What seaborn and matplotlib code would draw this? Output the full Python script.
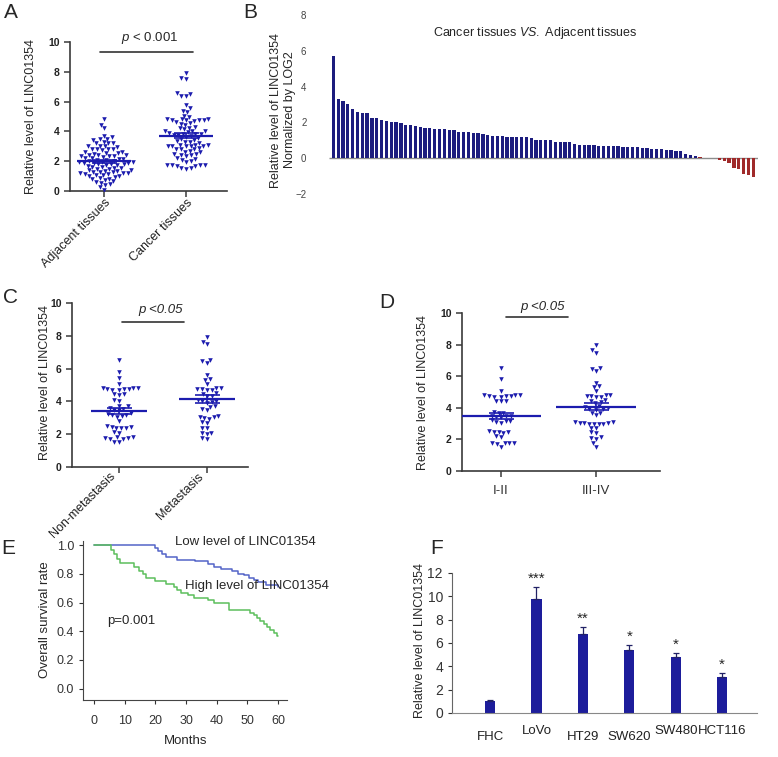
import numpy as np
import pandas as pd
import matplotlib
matplotlib.use("Agg")
import matplotlib.pyplot as plt
from matplotlib.transforms import ScaledTranslation
import seaborn as sns
import warnings
warnings.filterwarnings("ignore")

# ---------------- data ----------------
# Panel A
adjacent = [4.85, 4.45, 4.2, 3.7, 3.65, 3.5, 3.5, 3.45, 3.3, 3.25, 3.25, 3.2,
            3.05, 3.0, 3.0, 2.95, 2.85, 2.8, 2.8, 2.8, 2.75, 2.6, 2.6, 2.55, 2.55, 2.5,
            2.4, 2.4, 2.4, 2.35, 2.35, 2.35, 2.3, 2.2, 2.2, 2.15, 2.15, 2.1, 2.1,
            2.0, 2.0, 1.95, 1.95, 1.95, 1.9, 1.9, 1.9, 1.8, 1.8, 1.8, 1.75, 1.75, 1.7,
            1.6, 1.6, 1.55, 1.55, 1.5, 1.5, 1.4, 1.4, 1.35, 1.35, 1.3,
            1.25, 1.25, 1.2, 1.2, 1.2, 1.15, 1.15, 1.05, 1.05, 1.0, 1.0, 0.95,
            0.85, 0.8, 0.8, 0.75, 0.65, 0.6, 0.55, 0.45, 0.4, 0.25, 0.1]
cancer = [7.95, 7.6, 7.5, 6.55, 6.5, 6.4, 6.35, 5.75, 5.55, 5.35, 5.3, 5.05, 5.0,
          4.8, 4.8, 4.75, 4.75, 4.75, 4.8, 4.75, 4.7, 4.6, 4.55, 4.5, 4.45,
          4.3, 4.25, 4.2, 4.15, 4.05, 4.0, 4.0, 3.95, 3.9, 3.85, 3.8, 3.8, 3.75, 3.75, 3.7,
          3.6, 3.55, 3.5, 3.45, 3.35, 3.3, 3.3, 3.25,
          3.1, 3.1, 3.1, 3.05, 3.05, 3.05, 3.0, 3.0, 2.9, 2.85, 2.8, 2.8,
          2.7, 2.65, 2.6, 2.45, 2.45, 2.4, 2.4, 2.35, 2.2, 2.15, 2.1, 2.0, 1.95,
          1.75, 1.75, 1.75, 1.7, 1.7, 1.75, 1.55, 1.55, 1.5]
groups_a = ["Adjacent tissues", "Cancer tissues"]

# Panel B (log2 fold change per patient, sorted)
b_values = [5.7, 3.3, 3.18, 3.05, 2.74, 2.6, 2.55, 2.5, 2.25, 2.25,
            2.16, 2.1, 2.0, 2.0, 1.96, 1.87, 1.85, 1.81, 1.77, 1.7,
            1.68, 1.65, 1.65, 1.61, 1.58, 1.57, 1.48, 1.46, 1.44, 1.42,
            1.38, 1.33, 1.29, 1.26, 1.25, 1.24, 1.18, 1.17, 1.17, 1.16, 1.16,
            1.15, 1.03, 1.03, 1.02, 1.02, 0.92, 0.91, 0.9, 0.88, 0.79,
            0.76, 0.74, 0.73, 0.71, 0.7, 0.7, 0.69, 0.68, 0.66, 0.63, 0.62,
            0.6, 0.6, 0.57, 0.56, 0.54, 0.53, 0.5, 0.48, 0.46, 0.43,
            0.42, 0.24, 0.18, 0.13,
            0.06, 0.03, 0.0, 0.0,
            -0.12, -0.15, -0.25, -0.55, -0.58, -0.9, -0.95, -1.05]
b_groups = ["up"] * 76 + ["down"] * 12

# Panel C
non_metastasis = [6.5, 5.8, 5.4, 5.05, 4.8, 4.8, 4.75, 4.75, 4.75, 4.7, 4.7, 4.8,
                  4.45, 4.45, 4.4, 4.1, 4.05, 3.75, 3.7, 3.6, 3.55, 3.5, 3.45,
                  3.3, 3.25, 3.2, 3.15, 3.1, 3.05, 2.8, 2.5, 2.45, 2.45, 2.4, 2.4, 2.35,
                  2.15, 2.1, 1.8, 1.8, 1.75, 1.75, 1.7, 1.7, 1.55, 1.55]
metastasis = [7.95, 7.65, 7.5, 6.55, 6.45, 6.35, 5.6, 5.35, 5.3, 5.05,
              4.8, 4.8, 4.75, 4.75, 4.7, 4.7, 4.5, 4.45, 4.35, 4.3,
              4.1, 4.05, 4.0, 3.95, 3.9, 3.7, 3.65, 3.55, 3.45,
              3.1, 3.05, 3.05, 3.0, 2.95, 2.75, 2.7, 2.4, 2.35, 2.1, 2.05, 2.0, 1.75, 1.7]
groups_c = ["Non-metastasis", "Metastasis"]

# Panel D
stage_12 = [6.5, 5.8, 5.05, 4.8, 4.8, 4.75, 4.75, 4.7, 4.7, 4.8, 4.75,
            4.45, 4.4, 4.45, 3.75, 3.7, 3.65, 3.5, 3.45, 3.45, 3.4, 3.4,
            3.2, 3.15, 3.15, 3.1, 3.05, 2.55, 2.5, 2.45, 2.45, 2.4,
            2.2, 2.15, 1.8, 1.8, 1.75, 1.75, 1.7, 1.55]
stage_34 = [7.95, 7.65, 7.5, 6.55, 6.45, 6.35, 5.6, 5.35, 5.3, 5.05,
            4.8, 4.8, 4.75, 4.75, 4.7, 4.7, 4.5, 4.45, 4.35, 4.3,
            4.1, 4.05, 4.0, 3.95, 3.9, 3.85, 3.7, 3.65, 3.55,
            3.1, 3.05, 3.05, 3.0, 3.0, 2.95, 3.1, 3.05, 3.0,
            2.75, 2.7, 2.45, 2.4, 2.15, 2.1, 2.05, 1.75, 1.55]
groups_d = ["I-II", "III-IV"]

# Panel E (Kaplan-Meier step points)
low_time = [0, 20, 21, 22, 23.5, 27, 33, 37, 39, 41.5, 45, 47, 49, 50.5, 52, 53.5, 56, 60]
low_surv = [1.0, 0.98, 0.96, 0.94, 0.92, 0.90, 0.89, 0.87, 0.85, 0.835, 0.82, 0.80,
            0.79, 0.77, 0.76, 0.745, 0.72, 0.71]
high_time = [0, 5.5, 6.5, 7.5, 8.5, 13, 14.5, 16, 17, 20, 23.5, 26, 27, 28.5, 30.5,
             32.5, 37, 39, 44, 51, 52, 53, 54, 55.5, 56.5, 57.5, 58.5, 59.5, 60]
high_surv = [1.0, 0.97, 0.94, 0.905, 0.875, 0.85, 0.82, 0.80, 0.77, 0.75, 0.73, 0.71,
             0.69, 0.67, 0.65, 0.63, 0.62, 0.60, 0.55, 0.53, 0.51, 0.49, 0.47, 0.45,
             0.43, 0.41, 0.39, 0.37, 0.37]

# Panel F
cells = ["FHC", "LoVo", "HT29", "SW620", "SW480", "HCT116"]
cell_mean = [1.0, 9.75, 6.73, 5.36, 4.77, 3.1]
cell_err = [0.1, 1.03, 0.65, 0.5, 0.4, 0.33]
cell_sig = ["", "***", "**", "*", "*", "*"]

# ---------------- style ----------------
sns.set_style("ticks")
plt.rcParams["font.family"] = ["Liberation Sans", "DejaVu Sans"]
plt.rcParams["mathtext.fontset"] = "custom"
plt.rcParams["mathtext.rm"] = "Liberation Sans"
plt.rcParams["mathtext.it"] = "Liberation Sans:italic"

W, H = 778, 757
fig = plt.figure(figsize=(W / 100, H / 100), dpi=100)

DOT = "#1c1cae"
NAVY = "#0c0c8e"
RED = "#b41616"
FBLUE = "#0808b0"
AX = "#3a3a3a"


def box(l, t, r, b):
    return fig.add_axes([l / W, 1 - b / H, (r - l) / W, (b - t) / H])


def ftext(x, y, s, **kw):
    fig.text(x / W, 1 - y / H, s, **kw)


def prism(ax):
    sns.despine(ax=ax)
    for s in ("left", "bottom"):
        ax.spines[s].set_color(AX)
        ax.spines[s].set_linewidth(1.2)
    ax.tick_params(axis="both", colors=AX, width=1.1, length=4)


def dot_panel(ax, cats, groups, halfw):
    df = pd.DataFrame({"group": np.repeat(cats, [len(g) for g in groups]),
                       "value": np.concatenate(groups)})
    sns.swarmplot(data=df, x="group", y="value", order=cats, marker="v",
                  color=DOT, size=3.3, linewidth=0, ax=ax)
    for i, g in enumerate(groups):
        g = np.asarray(g)
        m = g.mean()
        se = g.std(ddof=1) / np.sqrt(len(g))
        ax.hlines(m, i - halfw, i + halfw, color=DOT, lw=1.6, zorder=5)
        ax.errorbar(i, m, yerr=se, fmt="none", ecolor=DOT, elinewidth=1.2,
                    capsize=9, capthick=1.2, zorder=5)
    ax.set_ylim(0, 10)
    ax.set_yticks(range(0, 11, 2))
    ax.set_xlabel("")
    ax.set_ylabel("")
    prism(ax)
    for lab in ax.get_yticklabels():
        lab.set_fontweight("bold")
        lab.set_fontsize(7.5)
        lab.set_color("#222222")


# ---------------- Panel A ----------------
axA = box(70, 42, 227, 191)
dot_panel(axA, groups_a, [adjacent, cancer], 0.33)
axA.set_xlim(-0.415, 1.5)
axA.set_xticks([0, 1])
axA.set_xticklabels(groups_a, rotation=45, ha="right", rotation_mode="anchor",
                    fontsize=9, color="#222222")
for lab in axA.get_xticklabels():
    lab.set_transform(lab.get_transform() + ScaledTranslation(0.0, 0.05, fig.dpi_scale_trans))
axA.plot([-0.05, 1.085], [9.33, 9.33], color="#333333", lw=1.2, clip_on=False)
axA.text(0.56, 10.3, "$p$ < 0.001", ha="center", va="center", fontsize=9.5,
         clip_on=False)
ftext(31, 116, "Relative level of LINC01354", rotation=90, ha="center", va="center",
      fontsize=9)

# ---------------- Panel B ----------------
axB = box(312, 15, 758, 194)
dfB = pd.DataFrame({"idx": np.arange(len(b_values)), "val": b_values, "grp": b_groups})
sns.barplot(data=dfB, x="idx", y="val", hue="grp", palette={"up": NAVY, "down": RED},
            dodge=False, width=0.68, linewidth=0, legend=False, ax=axB)
axB.set_xlim(-4.42, 88.0)
axB.set_ylim(-2, 8)
axB.set_yticks(range(-2, 9, 2))
axB.set_xticks([])
axB.hlines(0, -0.8, 88.0, color="#8c8c8c", lw=1.0, zorder=0)
for s in axB.spines.values():
    s.set_visible(False)
axB.tick_params(axis="y", length=0, labelsize=7, labelcolor="#444444", pad=4)
axB.set_xlabel("")
axB.set_ylabel("")
axB.text(0.5, 0.9, "Cancer tissues $VS.$ Adjacent tissues", transform=axB.transAxes,
         ha="center", va="center", fontsize=9)
ftext(283, 110, "Relative level of LINC01354\nNormalized by LOG2", rotation=90,
      ha="center", va="center", fontsize=9, multialignment="center", linespacing=1.25)

# ---------------- Panel C ----------------
axC = box(72, 303, 248, 467)
dot_panel(axC, groups_c, [non_metastasis, metastasis], 0.32)
axC.set_xlim(-0.534, 1.466)
axC.set_xticks([0, 1])
axC.set_xticklabels(groups_c, rotation=45, ha="right", rotation_mode="anchor",
                    fontsize=9, color="#222222")
for lab in axC.get_xticklabels():
    lab.set_transform(lab.get_transform() + ScaledTranslation(-0.1, 0.07, fig.dpi_scale_trans))
axC.plot([0.03, 0.74], [8.84, 8.84], color="#333333", lw=1.2, clip_on=False)
axC.text(0.47, 9.55, "p <0.05", ha="center", va="center", fontsize=9.5,
         fontstyle="italic", clip_on=False)
ftext(45, 382, "Relative level of LINC01354", rotation=90, ha="center", va="center",
      fontsize=9)

# ---------------- Panel D ----------------
axD = box(462, 313, 660, 471)
dot_panel(axD, groups_d, [stage_12, stage_34], 0.42)
axD.set_xlim(-0.41, 1.67)
axD.set_xticks([0, 1])
axD.set_xticklabels(groups_d, fontsize=9.5, color="#333333")
axD.tick_params(axis="x", pad=6)
axD.plot([0.05, 0.7], [9.75, 9.75], color="#333333", lw=1.2, clip_on=False)
axD.text(0.44, 10.4, "p <0.05", ha="center", va="center", fontsize=9.5,
         fontstyle="italic", clip_on=False)
ftext(423, 393, "Relative level of LINC01354", rotation=90, ha="center", va="center",
      fontsize=9)

# ---------------- Panel E ----------------
axE = box(83, 541, 287, 700)
sns.lineplot(x=low_time, y=low_surv, drawstyle="steps-post", color="#5464c8", lw=1.1,
             estimator=None, ax=axE)
sns.lineplot(x=high_time, y=high_surv, drawstyle="steps-post", color="#5cbf5c", lw=1.1,
             estimator=None, ax=axE)
axE.set_xlim(-3.6, 62.9)
axE.set_ylim(-0.08, 1.03)
axE.set_xticks(range(0, 61, 10))
axE.set_yticks(np.arange(0, 1.01, 0.2))
axE.set_yticklabels([f"{v:.1f}" for v in np.arange(0, 1.01, 0.2)])
sns.despine(ax=axE)
for s in ("left", "bottom"):
    axE.spines[s].set_color("#444444")
axE.tick_params(axis="both", labelsize=9, length=3, colors="#333333")
axE.tick_params(axis="x", pad=8)
axE.set_xlabel("")
axE.set_ylabel("")
axE.text(26.4, 1.02, "Low level of LINC01354", ha="left", va="center", fontsize=9.5,
         clip_on=False)
axE.text(29.7, 0.713, "High level of LINC01354", ha="left", va="center", fontsize=9.5)
axE.text(4.2, 0.47, "p=0.001", ha="left", va="center", fontsize=9.5)
ftext(45, 620, "Overall survival rate", rotation=90, ha="center", va="center",
      fontsize=9.5)
ftext(186, 741, "Months", ha="center", va="center", fontsize=9.5)

# ---------------- Panel F ----------------
axF = box(452, 573, 757, 713)
sns.barplot(x=cells, y=cell_mean, color=FBLUE, width=0.22, linewidth=0, ax=axF)
axF.errorbar(np.arange(len(cells)), cell_mean, yerr=[np.zeros(len(cells)), cell_err],
             fmt="none", ecolor="#222266", elinewidth=0.9, capsize=2.5, capthick=0.9)
for i, (m, e, s) in enumerate(zip(cell_mean, cell_err, cell_sig)):
    if s:
        axF.text(i, m + e + 0.1, s, ha="center", va="bottom", fontsize=11)
axF.set_xlim(-0.82, 5.75)
axF.set_ylim(0, 12)
axF.set_yticks(range(0, 13, 2))
sns.despine(ax=axF)
axF.spines["left"].set_color("#666666")
axF.spines["bottom"].set_color("#888888")
axF.tick_params(axis="y", labelsize=10, length=3, colors="#333333")
axF.tick_params(axis="x", labelsize=9.5, length=0, colors="#222222")
for i, t in enumerate(axF.xaxis.get_major_ticks()):
    t.set_pad(13 if i in (0, 2, 3) else 9)
axF.set_xlabel("")
axF.set_ylabel("")
ftext(420, 640, "Relative level of LINC01354", rotation=90, ha="center", va="center",
      fontsize=9)

# ---------------- panel letters ----------------
for letter, (x, y) in {"A": (11, 13), "B": (250, 12), "C": (11, 297),
                       "D": (387, 303), "E": (8, 548), "F": (437, 549)}.items():
    ftext(x, y, letter, ha="center", va="center", fontsize=15)

fig.savefig("out.png", dpi=100)
